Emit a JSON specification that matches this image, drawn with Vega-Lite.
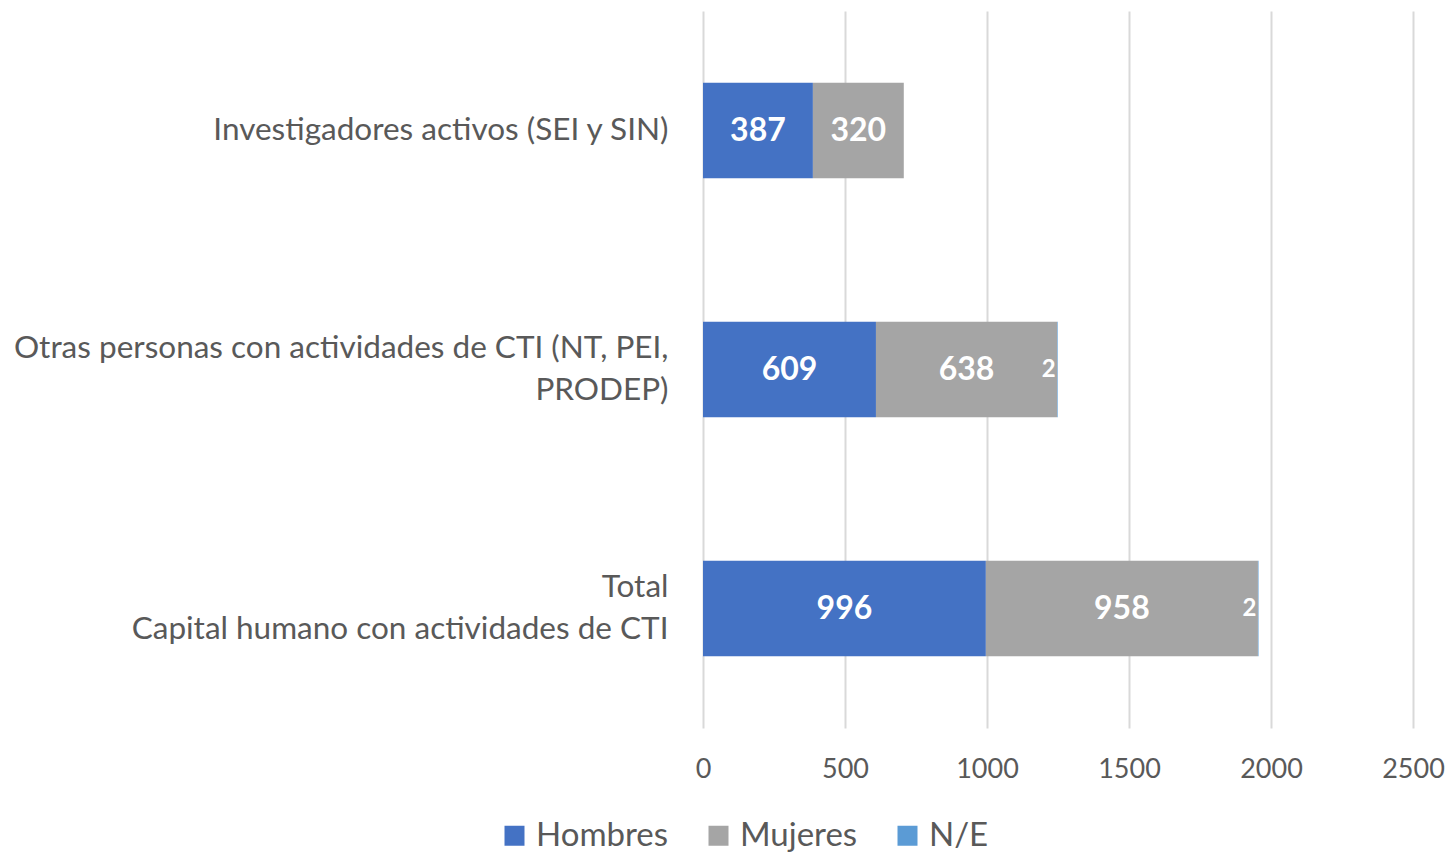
{
  "$schema": "https://vega.github.io/schema/vega-lite/v6.json",
  "width": 710,
  "height": 717,
  "autosize": {"type": "none"},
  "padding": {"left": 703, "top": 11, "right": 36, "bottom": 125},
  "config": {"view": {"stroke": null}, "font": "Lato"},
  "data": {
    "values": [
      {"cat": "Investigadores activos (SEI y SIN)", "g": "Hombres", "o": 1, "v": 387},
      {"cat": "Investigadores activos (SEI y SIN)", "g": "Mujeres", "o": 2, "v": 320},
      {"cat": "Investigadores activos (SEI y SIN)", "g": "N/E", "o": 3, "v": 0},
      {"cat": "Otras personas con actividades de CTI (NT, PEI,|PRODEP)", "g": "Hombres", "o": 1, "v": 609},
      {"cat": "Otras personas con actividades de CTI (NT, PEI,|PRODEP)", "g": "Mujeres", "o": 2, "v": 638},
      {"cat": "Otras personas con actividades de CTI (NT, PEI,|PRODEP)", "g": "N/E", "o": 3, "v": 2},
      {"cat": "Total|Capital humano con actividades de CTI", "g": "Hombres", "o": 1, "v": 996},
      {"cat": "Total|Capital humano con actividades de CTI", "g": "Mujeres", "o": 2, "v": 958},
      {"cat": "Total|Capital humano con actividades de CTI", "g": "N/E", "o": 3, "v": 2}
    ]
  },
  "transform": [
    {"stack": "v", "groupby": ["cat"], "sort": [{"field": "o", "order": "ascending"}], "as": ["v0", "v1"]},
    {"calculate": "(datum.v0 + datum.v1) / 2", "as": "mid"}
  ],
  "encoding": {
    "y": {
      "field": "cat",
      "type": "nominal",
      "sort": ["Investigadores activos (SEI y SIN)", "Otras personas con actividades de CTI (NT, PEI,|PRODEP)", "Total|Capital humano con actividades de CTI"],
      "scale": {"paddingInner": 0.6, "paddingOuter": 0.3},
      "axis": {
        "title": null,
        "labelExpr": "split(datum.value, '|')",
        "labelFontSize": 31.5,
        "labelColor": "#595959",
        "labelPadding": 35,
        "labelLineHeight": 42,
        "labelLimit": 0,
        "labelOffset": {"condition": {"test": "indexof(datum.value, '|') >= 0", "value": -21}, "value": 0},
        "ticks": false,
        "domain": false
      }
    }
  },
  "layer": [
    {
      "mark": {"type": "bar"},
      "encoding": {
        "x": {
          "field": "v0",
          "type": "quantitative",
          "scale": {"domain": [0, 2500], "nice": false},
          "axis": {
            "title": null,
            "values": [0, 500, 1000, 1500, 2000, 2500],
            "format": "d",
            "domain": false,
            "ticks": false,
            "gridColor": "#d9d9d9",
            "gridWidth": 2,
            "labelFontSize": 27,
            "labelColor": "#595959",
            "labelPadding": 28,
            "labelFlush": false
          }
        },
        "x2": {"field": "v1"},
        "color": {
          "field": "g",
          "type": "nominal",
          "scale": {"domain": ["Hombres", "Mujeres", "N/E"], "range": ["#4472C4", "#A5A5A5", "#5B9BD5"]},
          "legend": {
            "title": null,
            "orient": "none",
            "direction": "horizontal",
            "legendX": -205,
            "legendY": 808,
            "symbolType": "square",
            "symbolSize": 400,
            "symbolStrokeWidth": 0,
            "symbolOpacity": 1,
            "labelFontSize": 33,
            "labelColor": "#595959",
            "labelOffset": 5,
            "columnPadding": 33
          }
        }
      }
    },
    {
      "transform": [{"filter": "datum.g != 'N/E'"}],
      "mark": {"type": "text", "color": "white", "fontWeight": "bold", "fontSize": 32, "baseline": "middle"},
      "encoding": {
        "x": {"field": "mid", "type": "quantitative"},
        "text": {"field": "v", "type": "quantitative"}
      }
    },
    {
      "transform": [{"filter": "datum.g == 'N/E' && datum.v > 0"}],
      "mark": {"type": "text", "color": "white", "fontWeight": "bold", "fontSize": 24, "baseline": "middle", "align": "right", "dx": -2},
      "encoding": {
        "x": {"field": "v1", "type": "quantitative"},
        "text": {"field": "v", "type": "quantitative"}
      }
    }
  ]
}
